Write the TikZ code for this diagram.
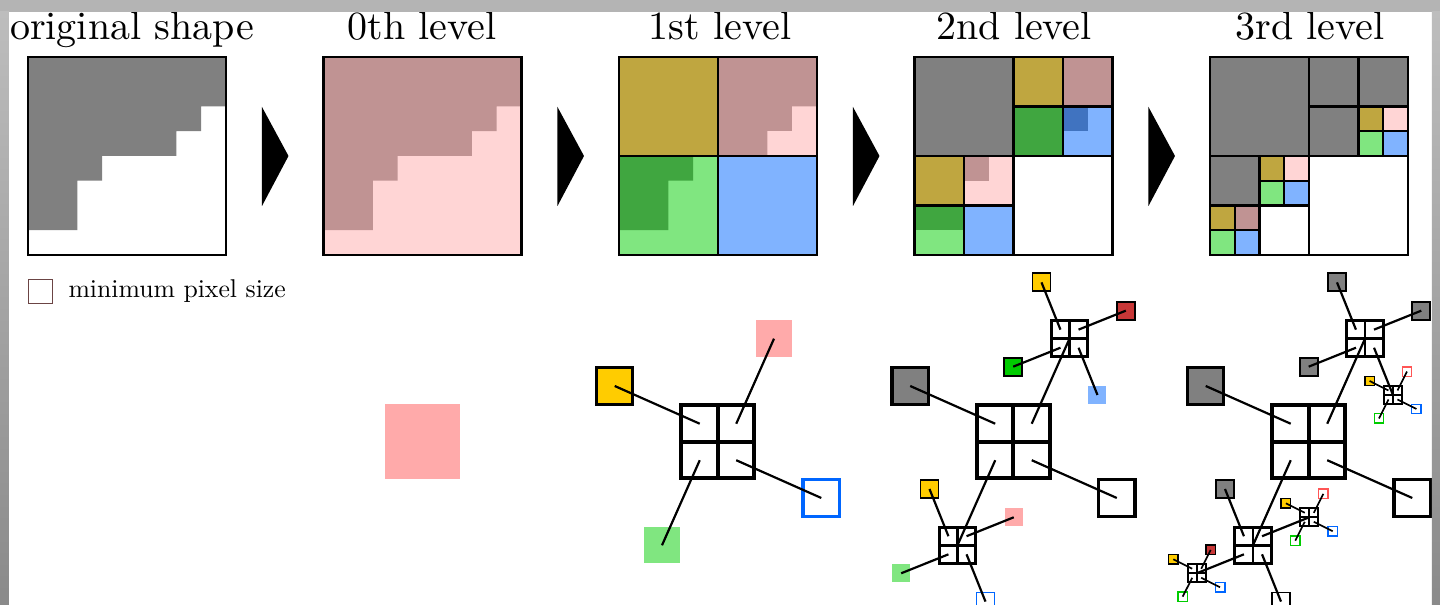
\documentclass[tikz,border=0pt]{standalone}
\usetikzlibrary{calc}
% palette
\definecolor{shapegray}{HTML}{808080}
\definecolor{rose}{HTML}{C09393}
\definecolor{blush}{HTML}{FFD5D5}
\definecolor{ochre}{HTML}{BFA640}
\definecolor{leafdark}{HTML}{40A640}
\definecolor{leaflight}{HTML}{80E680}
\definecolor{skylight}{HTML}{80B3FF}
\definecolor{skydark}{HTML}{4073C0}
\definecolor{qyellow}{HTML}{FFCC00}
\definecolor{qpink}{HTML}{FFAAAA}
\definecolor{qblue}{HTML}{0066FF}
\definecolor{qred}{HTML}{C83737}
\definecolor{qredline}{HTML}{FF5555}
\definecolor{qgreen}{HTML}{00CC00}
\definecolor{legendline}{HTML}{6B4444}
\definecolor{framegray}{HTML}{B4B4B4}
\definecolor{frametop}{HTML}{BDBDBD}
\definecolor{framebottom}{HTML}{8A8A8A}

\tikzset{
  gridline/.style={line width=0.6pt, line join=miter},
  tnode/.style={rectangle, inner sep=0pt, outer sep=0pt},
  bigsq/.style={tnode, minimum size=9.1pt},
  midsq/.style={tnode, minimum size=4.5pt},
  tinysq/.style={tnode, minimum size=2.35pt},
  fullbig/.style={bigsq, draw=black, line width=0.8pt, fill=#1},
  partbig/.style={bigsq, fill=#1},
  emptybig/.style={bigsq, draw=#1, line width=0.8pt, fill=white},
  fullmid/.style={midsq, draw=black, line width=0.45pt, fill=#1},
  partmid/.style={midsq, fill=#1},
  emptymid/.style={midsq, draw=#1, line width=0.45pt, fill=white},
  fulltiny/.style={tinysq, draw=black, line width=0.38pt, fill=#1},
  emptytiny/.style={tinysq, draw=#1, line width=0.38pt, fill=white},
  quadbox/.style n args={2}{tnode, draw=black, fill=white, line width=#2,
    minimum size=#1,
    path picture={\draw[line width=#2]
      (path picture bounding box.north) -- (path picture bounding box.south)
      (path picture bounding box.west) -- (path picture bounding box.east);}},
  rootquad/.style={quadbox={18.25pt}{1pt}},
  subquad/.style={quadbox={9.05pt}{0.72pt}},
  tinyquad/.style={quadbox={4.5pt}{0.48pt}},
  link/.style={line width=0.55pt},
  thinlink/.style={line width=0.42pt},
  title/.style={anchor=base, inner sep=0pt, font=\fontsize{10}{12}\selectfont},
}

% centres of the four quadrants of a quad node
\newcommand\quadcoords[1]{%
  \coordinate (#1-tl) at ($(#1.center)!0.5!(#1.north west)$);
  \coordinate (#1-tr) at ($(#1.center)!0.5!(#1.north east)$);
  \coordinate (#1-bl) at ($(#1.center)!0.5!(#1.south west)$);
  \coordinate (#1-br) at ($(#1.center)!0.5!(#1.south east)$);}

\begin{document}
\begin{tikzpicture}[x=0.25pt,y=-0.25pt]
\useasboundingbox (0,0) rectangle (1440,605);
\clip (0,0) rectangle (1440,605);
\fill[white] (0,0) rectangle (1440,605);

% ---------- titles ----------
\node[title] (t0) at (132,40) {original shape};
\node[title] (t1) at (422,40) {0th level};
\node[title] (t2) at (720,40) {1st level};
\node[title] (t3) at (1014,40) {2nd level};
\node[title] (t4) at (1310,40) {3rd level};

% ---------- original shape ----------
\begin{scope}[shift={(28,57)},x=6.1875pt,y=-6.1875pt]
  \fill[white] (0,0) rectangle (8,8);
  \fill[shapegray] (0,0) -| (8,2) -| (7,3) -| (6,4) -| (3,5) -| (2,7) -| (0,0) -- cycle;
  \draw[gridline] (0,0) rectangle (8,8);
\end{scope}

% ---------- 0th level ----------
\begin{scope}[shift={(323.5,57)},x=6.1875pt,y=-6.1875pt]
  \fill[blush] (0,0) rectangle (8,8);
  \fill[rose] (0,0) -| (8,2) -| (7,3) -| (6,4) -| (3,5) -| (2,7) -| (0,0) -- cycle;
  \draw[gridline] (0,0) rectangle (8,8);
\end{scope}

% ---------- 1st level ----------
\begin{scope}[shift={(619,57)},x=6.1875pt,y=-6.1875pt]
  \fill[ochre] (0,0) rectangle (4,4);
  \fill[rose] (4,0) rectangle (8,4);
  \fill[blush] (7,2) rectangle (8,4) (6,3) rectangle (7,4);
  \fill[leaflight] (0,4) rectangle (4,8);
  \fill[leafdark] (0,4) rectangle (3,5) (0,5) rectangle (2,7);
  \fill[skylight] (4,4) rectangle (8,8);
  \draw[gridline] (0,0) rectangle (8,8) (4,0) -- (4,8) (0,4) -- (8,4);
\end{scope}

% ---------- 2nd level ----------
\begin{scope}[shift={(914.5,57)},x=6.1875pt,y=-6.1875pt]
  \fill[white] (0,0) rectangle (8,8);
  \fill[shapegray] (0,0) rectangle (4,4);
  \fill[ochre] (4,0) rectangle (6,2);
  \fill[rose] (6,0) rectangle (8,2);
  \fill[leafdark] (4,2) rectangle (6,4);
  \fill[skylight] (6,2) rectangle (8,4);
  \fill[skydark] (6,2) rectangle (7,3);
  \fill[ochre] (0,4) rectangle (2,6);
  \fill[blush] (2,4) rectangle (4,6);
  \fill[rose] (2,4) rectangle (3,5);
  \fill[leaflight] (0,6) rectangle (2,8);
  \fill[leafdark] (0,6) rectangle (2,7);
  \fill[skylight] (2,6) rectangle (4,8);
  \draw[gridline] (0,0) rectangle (8,8) (4,0) -- (4,8) (0,4) -- (8,4)
    (6,0) -- (6,4) (4,2) -- (8,2) (2,4) -- (2,8) (0,6) -- (4,6);
\end{scope}

% ---------- 3rd level ----------
\begin{scope}[shift={(1210,57)},x=6.1875pt,y=-6.1875pt]
  \fill[white] (0,0) rectangle (8,8);
  \fill[shapegray] (0,0) rectangle (8,4);
  \fill[ochre] (6,2) rectangle (7,3);
  \fill[blush] (7,2) rectangle (8,3);
  \fill[leaflight] (6,3) rectangle (7,4);
  \fill[skylight] (7,3) rectangle (8,4);
  \fill[shapegray] (0,4) rectangle (2,6);
  \fill[ochre] (2,4) rectangle (3,5);
  \fill[blush] (3,4) rectangle (4,5);
  \fill[leaflight] (2,5) rectangle (3,6);
  \fill[skylight] (3,5) rectangle (4,6);
  \fill[ochre] (0,6) rectangle (1,7);
  \fill[rose] (1,6) rectangle (2,7);
  \fill[leaflight] (0,7) rectangle (1,8);
  \fill[skylight] (1,7) rectangle (2,8);
  \draw[gridline] (0,0) rectangle (8,8) (4,0) -- (4,8) (0,4) -- (8,4)
    (6,0) -- (6,4) (4,2) -- (8,2) (2,4) -- (2,8) (0,6) -- (4,6)
    (7,2) -- (7,4) (6,3) -- (8,3) (3,4) -- (3,6) (2,5) -- (4,5)
    (1,6) -- (1,8) (0,7) -- (2,7);
\end{scope}

% ---------- arrows between the levels ----------
\foreach \k in {0,...,3}
  \fill ({262+295.5*\k},107) -- ({288.5+295.5*\k},156) -- ({262+295.5*\k},206) -- cycle;

% ---------- legend ----------
\node[tnode, draw=legendline, line width=0.3pt, minimum size=6.1875pt] (legend) at (40.5,291.5) {};
\node[anchor=base west, inner sep=0pt, font=\fontsize{10}{12}\selectfont,
  scale=0.643, transform shape] (legendtext) at (68,298) {minimum pixel size};

% ---------- tree, 0th level ----------
\node[tnode, fill=qpink, minimum size=18.75pt] (r0) at (422.5,442) {};

% ---------- tree, 1st level ----------
\node[rootquad] (q1) at (718,442) {};
\quadcoords{q1}
\node[fullbig=qyellow] (q1a) at ($(q1)+(-103.3,-56)$) {};
\node[partbig=qpink] (q1b) at ($(q1)+(56,-103.3)$) {};
\node[emptybig=qblue] (q1c) at ($(q1)+(103.3,56)$) {};
\node[partbig=leaflight] (q1d) at ($(q1)+(-56,103.3)$) {};
\draw[link] (q1a.center) -- (q1-tl) (q1b.center) -- (q1-tr)
  (q1c.center) -- (q1-br) (q1d.center) -- (q1-bl);

% ---------- tree, 2nd level ----------
\node[rootquad] (q2) at (1013.5,442) {};
\quadcoords{q2}
\node[fullbig=shapegray] (q2a) at ($(q2)+(-103.3,-56)$) {};
\node[subquad] (s2a) at ($(q2)+(56,-103.3)$) {};
\node[fullbig=white] (q2c) at ($(q2)+(103.3,56)$) {};
\node[subquad] (s2b) at ($(q2)+(-56,103.3)$) {};
\quadcoords{s2a}
\quadcoords{s2b}
\node[fullmid=qyellow] (s2a1) at ($(s2a)+(-28,-56.3)$) {};
\node[fullmid=qred] (s2a2) at ($(s2a)+(56.3,-28)$) {};
\node[partmid=skylight] (s2a3) at ($(s2a)+(28,56.3)$) {};
\node[fullmid=qgreen] (s2a4) at ($(s2a)+(-56.3,28)$) {};
\node[fullmid=qyellow] (s2b1) at ($(s2b)+(-28,-56.3)$) {};
\node[partmid=qpink] (s2b2) at ($(s2b)+(56.3,-28)$) {};
\node[emptymid=qblue] (s2b3) at ($(s2b)+(28,56.3)$) {};
\node[partmid=leaflight] (s2b4) at ($(s2b)+(-56.3,28)$) {};
\draw[link] (q2a.center) -- (q2-tl) (q2-tr) -- (s2a.center)
  (q2c.center) -- (q2-br) (q2-bl) -- (s2b.center);
\draw[link] (s2a1.center) -- (s2a-tl) (s2a2.center) -- (s2a-tr)
  (s2a3.center) -- (s2a-br) (s2a4.center) -- (s2a-bl);
\draw[link] (s2b1.center) -- (s2b-tl) (s2b2.center) -- (s2b-tr)
  (s2b3.center) -- (s2b-br) (s2b4.center) -- (s2b-bl);

% ---------- tree, 3rd level ----------
\node[rootquad] (q3) at (1309,442) {};
\quadcoords{q3}
\node[fullbig=shapegray] (q3a) at ($(q3)+(-103.3,-56)$) {};
\node[subquad] (s3a) at ($(q3)+(56,-103.3)$) {};
\node[fullbig=white] (q3c) at ($(q3)+(103.3,56)$) {};
\node[subquad] (s3b) at ($(q3)+(-56,103.3)$) {};
\quadcoords{s3a}
\quadcoords{s3b}
\node[fullmid=shapegray] (s3a1) at ($(s3a)+(-28,-56.3)$) {};
\node[fullmid=shapegray] (s3a2) at ($(s3a)+(56.3,-28)$) {};
\node[tinyquad] (t3a) at ($(s3a)+(28,56.3)$) {};
\node[fullmid=shapegray] (s3a4) at ($(s3a)+(-56.3,28)$) {};
\node[fullmid=shapegray] (s3b1) at ($(s3b)+(-28,-56.3)$) {};
\node[tinyquad] (t3b) at ($(s3b)+(56.3,-28)$) {};
\node[fullmid=white] (s3b3) at ($(s3b)+(28,56.3)$) {};
\node[tinyquad] (t3c) at ($(s3b)+(-56.3,28)$) {};
\quadcoords{t3a}
\quadcoords{t3b}
\quadcoords{t3c}
\node[fulltiny=qyellow] (t3a1) at ($(t3a)+(-23.4,-14)$) {};
\node[emptytiny=qredline] (t3a2) at ($(t3a)+(14,-23.4)$) {};
\node[emptytiny=qblue] (t3a3) at ($(t3a)+(23.4,14)$) {};
\node[emptytiny=qgreen] (t3a4) at ($(t3a)+(-14,23.4)$) {};
\node[fulltiny=qyellow] (t3b1) at ($(t3b)+(-23.4,-14)$) {};
\node[emptytiny=qredline] (t3b2) at ($(t3b)+(14,-23.4)$) {};
\node[emptytiny=qblue] (t3b3) at ($(t3b)+(23.4,14)$) {};
\node[emptytiny=qgreen] (t3b4) at ($(t3b)+(-14,23.4)$) {};
\node[fulltiny=qyellow] (t3c1) at ($(t3c)+(-23.4,-14)$) {};
\node[fulltiny=qred] (t3c2) at ($(t3c)+(14,-23.4)$) {};
\node[emptytiny=qblue] (t3c3) at ($(t3c)+(23.4,14)$) {};
\node[emptytiny=qgreen] (t3c4) at ($(t3c)+(-14,23.4)$) {};
\draw[link] (q3a.center) -- (q3-tl) (q3-tr) -- (s3a.center)
  (q3c.center) -- (q3-br) (q3-bl) -- (s3b.center);
\draw[link] (s3a1.center) -- (s3a-tl) (s3a2.center) -- (s3a-tr)
  (s3a-br) -- (t3a.center) (s3a4.center) -- (s3a-bl);
\draw[link] (s3b1.center) -- (s3b-tl) (s3b-tr) -- (t3b.center)
  (s3b3.center) -- (s3b-br) (s3b-bl) -- (t3c.center);
\foreach \t in {t3a,t3b,t3c}{
  \draw[thinlink] (\t1.center) -- (\t-tl) (\t2.center) -- (\t-tr)
    (\t3.center) -- (\t-br) (\t4.center) -- (\t-bl);
}

% ---------- window frame ----------
\fill[framegray] (0,0) rectangle (1440,12);
\shade[top color=frametop, bottom color=framebottom] (0,12) rectangle (9,605);
\shade[top color=frametop, bottom color=framebottom] (1432,12) rectangle (1440,605);
\end{tikzpicture}
\end{document}
